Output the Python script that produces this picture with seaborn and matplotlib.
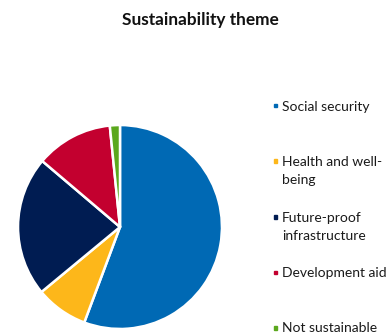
import matplotlib
matplotlib.use("Agg")
import matplotlib.pyplot as plt
import seaborn as sns

# Share of the portfolio by sustainability theme (%)
themes = ["Social security", "Health and well-\nbeing", "Future-proof\ninfrastructure",
          "Development aid", "Not sustainable"]
shares = [55.7, 8.3, 22.2, 12.2, 1.6]
colors = ["#0069B4", "#FDB71A", "#001C52", "#C3002F", "#5BA81D"]

sns.set_theme(style="white")
plt.rcParams["font.family"] = ["Lato", "DejaVu Sans"]

W, H = 392, 335
fig = plt.figure(figsize=(W / 100, H / 100), dpi=100)

cx, cy, r = 120, 227, 104
ax = fig.add_axes([(cx - r) / W, (H - cy - r) / H, 2 * r / W, 2 * r / H])
palette = sns.color_palette(colors)
ax.pie(shares, colors=palette, startangle=90, counterclock=False, radius=1,
       wedgeprops=dict(edgecolor="white", linewidth=1.8))
ax.set_xlim(-1.02, 1.02)
ax.set_ylim(-1.02, 1.02)
ax.set_aspect("equal")

fig.text(200 / W, 1 - 20 / H, "Sustainability theme", ha="center", va="center",
         fontsize=12.4, fontweight="bold", color="#111111")

# Legend entries: first lines evenly spaced
top, step = 106, 55.5
for i, (label, col) in enumerate(zip(themes, palette)):
    y = top + i * step
    fig.patches.append(plt.Rectangle((273.5 / W, 1 - (y + 1.5) / H), 3.5 / W, 3.5 / H,
                                     transform=fig.transFigure, color=col))
    fig.text(282 / W, 1 - (y - 5.5) / H, label, ha="left", va="top",
             fontsize=10, color="#1a1a1a", linespacing=1.6)

fig.savefig("out.png", dpi=100)
